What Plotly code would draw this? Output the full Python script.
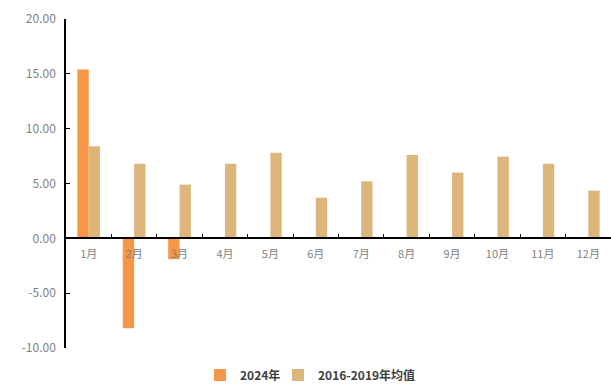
import plotly.graph_objects as go

months = ["1月", "2月", "3月", "4月", "5月", "6月", "7月", "8月", "9月", "10月", "11月", "12月"]
y2024 = [15.4, -8.2, -1.9, None, None, None, None, None, None, None, None, None]
avg_2016_2019 = [8.4, 6.8, 4.9, 6.8, 7.8, 3.7, 5.2, 7.6, 6.0, 7.45, 6.8, 4.35]
yticks = [-10, -5, 0, 5, 10, 15, 20]

font_family = "Noto Sans CJK SC"

fig = go.Figure()
fig.add_trace(go.Bar(x=months, y=y2024, name="2024年", legend="legend",
                     marker=dict(color="#F79646", line=dict(width=0))))
fig.add_trace(go.Bar(x=months, y=avg_2016_2019, name="2016-2019年均值", legend="legend2",
                     marker=dict(color="#DDB67C", line=dict(width=0))))

legend_font = dict(size=12, color="#404040", family=font_family, weight="bold")
fig.update_layout(
    width=611, height=387,
    margin=dict(l=66, r=0, t=19, b=39, autoexpand=False),
    plot_bgcolor="white", paper_bgcolor="white",
    barmode="group", bargap=0.5, bargroupgap=0,
    font=dict(family=font_family, size=11, color="#7f7f7f"),
    showlegend=True,
    legend=dict(orientation="h", x=0.2459, xanchor="left", y=-0.082, yanchor="middle",
                font=legend_font, bgcolor="rgba(0,0,0,0)"),
    legend2=dict(orientation="h", x=0.3890, xanchor="left", y=-0.082, yanchor="middle",
                 font=legend_font, bgcolor="rgba(0,0,0,0)"),
    xaxis=dict(anchor="free", position=1/3, showline=True, linecolor="black", linewidth=1.5,
               ticks="inside", ticklen=4, tickcolor="black", tickson="boundaries",
               ticklabelstandoff=6,
               showgrid=False, zeroline=False, tickfont=dict(size=11, color="#7f7f7f")),
    yaxis=dict(range=[-10, 20], tickvals=yticks, ticktext=[f"{v:.2f}" for v in yticks],
               showline=True, linecolor="black", linewidth=1.5, ticks="inside", ticklen=4,
               ticklabelstandoff=6,
               tickcolor="black", showgrid=False, zeroline=False,
               tickfont=dict(size=12, color="#7f7f7f")),
)

fig.write_html("out.html")
